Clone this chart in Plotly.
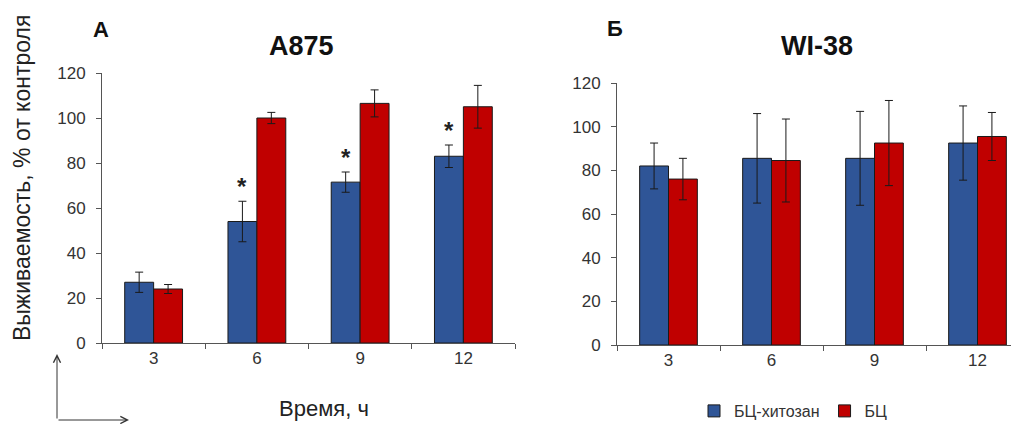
import plotly.graph_objects as go

times = ["3", "6", "9", "12"]
series_names = ["БЦ-хитозан", "БЦ"]

a875_chitosan = [27, 54, 71.5, 83]
a875_chitosan_err = [4.5, 9, 4.5, 5]
a875_bc = [24, 100, 106.5, 105]
a875_bc_err = [2, 2.5, 6, 9.5]
a875_signif = ["", "*", "*", "*"]

wi38_chitosan = [82, 85.5, 85.5, 92.5]
wi38_chitosan_err = [10.5, 20.5, 21.5, 17]
wi38_bc = [76, 84.5, 92.5, 95.5]
wi38_bc_err = [9.5, 19, 19.5, 11]

BLUE = "#2F5597"
RED = "#C00000"
FONT = "Liberation Sans, Arial, sans-serif"

# page has an 8px body margin; figure fills the rest of the 1019x424 window
OFF = 8
W, H = 1019 - OFF, 424 - OFF

def px(x):
    return (x - OFF) / W

def py(y):
    return 1 - (y - OFF) / H

fig = go.Figure()

def add_bar(x, y, err, name, color, xa, ya, show):
    fig.add_trace(go.Bar(
        x=x, y=y, name=name, marker=dict(color=color, line=dict(color="#1a1a1a", width=1)),
        error_y=dict(type="data", array=err, color="#1a1a1a", thickness=1, width=4),
        xaxis=xa, yaxis=ya, showlegend=show, legendgroup=name,
    ))

add_bar(times, a875_chitosan, a875_chitosan_err, series_names[0], BLUE, "x", "y", True)
add_bar(times, a875_bc, a875_bc_err, series_names[1], RED, "x", "y", True)
add_bar(times, wi38_chitosan, wi38_chitosan_err, series_names[0], BLUE, "x2", "y2", False)
add_bar(times, wi38_bc, wi38_bc_err, series_names[1], RED, "x2", "y2", False)

axis_common = dict(showline=True, linecolor="#555", linewidth=1, ticks="outside",
                   tickcolor="#555", ticklen=5, showgrid=False, zeroline=False,
                   automargin=False,
                   tickfont=dict(family=FONT, size=17, color="#333"))

fig.update_layout(
    width=W, height=H,
    margin=dict(l=0, r=0, t=0, b=0, autoexpand=False),
    paper_bgcolor="white", plot_bgcolor="white",
    barmode="group", bargap=0.44, bargroupgap=0,
    font=dict(family=FONT),
    xaxis=dict(domain=[px(102), px(515)], type="category", range=[-0.5, 3.5],
               tickson="boundaries", anchor="y", **axis_common),
    yaxis=dict(domain=[py(343), py(73)], range=[0, 120], dtick=20,
               anchor="x", ticklabelstandoff=7, **axis_common),
    xaxis2=dict(domain=[px(617), 1.0], type="category", range=[-0.5, -0.5 + 402/103],
                tickson="boundaries", anchor="y2", **axis_common),
    yaxis2=dict(domain=[py(345), py(83)], range=[0, 120], dtick=20,
                anchor="x2", ticklabelstandoff=7, **axis_common),
    legend=dict(orientation="h", x=px(694), xanchor="left", y=py(411), yanchor="middle",
                font=dict(family=FONT, size=16, color="#333"), itemwidth=30,
                traceorder="normal"),
)

def label(text, x, y, size, color="#111", angle=0):
    return dict(text=text, x=px(x), y=py(y), xref="paper", yref="paper",
                xanchor="center", yanchor="middle", textangle=angle, showarrow=False,
                font=dict(family=FONT, size=size, color=color))

ann = [
    label("<b>A875</b>", 301, 46, 27),
    label("<b>WI-38</b>", 817, 46, 27),
    label("<b>А</b>", 101, 29, 22),
    label("<b>Б</b>", 615, 28, 22),
    label("Выживаемость, % от контроля", 22, 178, 23, "#222", -90),
    label("Время, ч", 324, 408, 22, "#222"),
]

for i, s in enumerate(a875_signif):
    if s:
        ann.append(dict(text="<b>" + s + "</b>", x=i - 0.14, y=a875_chitosan[i] + a875_chitosan_err[i],
                        xref="x", yref="y", xanchor="center", yanchor="bottom",
                        showarrow=False, yshift=-1,
                        font=dict(family=FONT, size=24, color="#222")))

# decorative axis arrows in the lower-left corner
ann.append(dict(x=px(57), y=py(354), xref="paper", yref="paper", ax=0, ay=66,
                text="", showarrow=True, arrowhead=5, arrowsize=1.4, arrowwidth=1,
                arrowcolor="#333"))
ann.append(dict(x=px(129), y=py(420), xref="paper", yref="paper", ax=-72, ay=0,
                text="", showarrow=True, arrowhead=5, arrowsize=1.4, arrowwidth=1,
                arrowcolor="#333"))

fig.update_layout(annotations=ann)
fig.write_html("out.html")
